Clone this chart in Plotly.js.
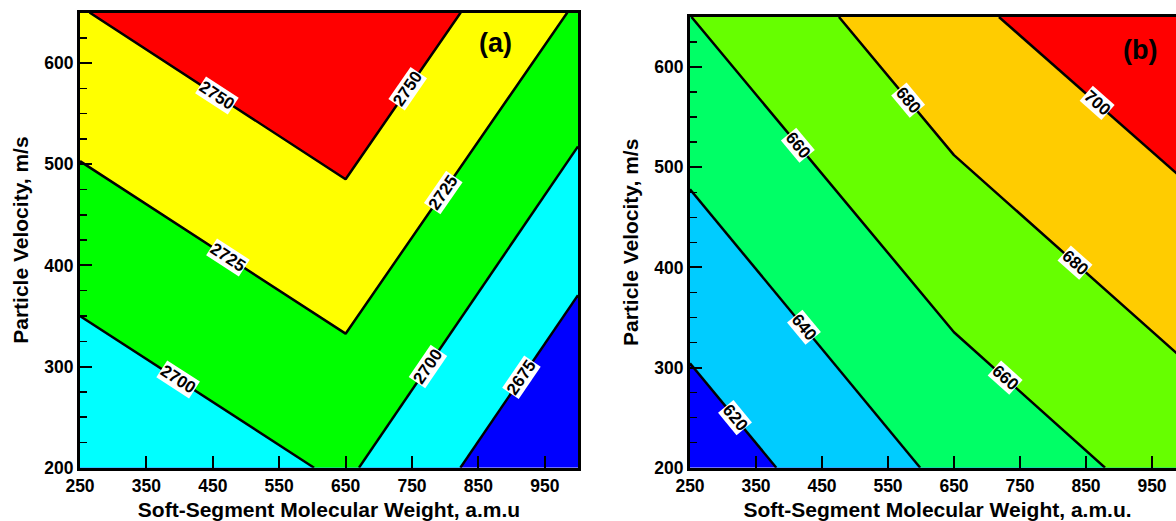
<!DOCTYPE html>
<html><head><meta charset="utf-8">
<script src="https://cdn.plot.ly/plotly-3.0.1.min.js"></script>
<style>html,body{margin:0;padding:0;overflow:hidden;background:#fff;}</style>
</head><body><div id="chart" style="width:1200px;height:521px;"></div>
<script>
// Data grid (soft-segment molecular weight, particle velocity)
const molWeight = [250, 650, 1000];
const velocity = [200, 650];
// Panel (a) values
const zA = [[2675.5, 2703.3, 2646],
            [2749, 2777, 2722.5]];
const levelsA = [2675, 2700, 2725, 2750];
const colorsA = ['#0000FF', '#00FFFF', '#00FF00', '#FFFF00', '#FF0000'];
// Panel (b) values
const zB = [[608, 644.7, 668.1],
            [659.8, 695.6, 718.2]];
const levelsB = [620, 640, 660, 680, 700];
const colorsB = ['#0000FF', '#00CCFF', '#00FF66', '#66FF00', '#FFCC00', '#FF0000'];
// Contour label placement: [level, molecular weight at which the label sits]
const labelsA = [[2750, 456], [2750, 744], [2725, 473], [2725, 797], [2700, 398], [2700, 774], [2675, 915]];
const labelsB = [[620, 318], [640, 423], [660, 414], [660, 727], [680, 581], [680, 833], [700, 866]];
// Tick labels
const xTicks = [250, 350, 450, 550, 650, 750, 850, 950];
const yTicks = [200, 300, 400, 500, 600];
const xTitleA = 'Soft-Segment Molecular Weight, a.m.u';
const xTitleB = 'Soft-Segment Molecular Weight, a.m.u.';
const yTitle = 'Particle Velocity, m/s';
const panelTags = ['(a)', '(b)'];

const W = 1200, H = 521;
const FONT = 'Liberation Sans, Arial, sans-serif';
const b = s => '<b>' + s + '</b>';

function stepScale(levels, colors) {
  const cs = levels[1] - levels[0];
  const lo = levels[0] - cs / 2;
  const span = levels.length * cs;
  const scale = [[0, colors[0]]];
  levels.forEach((L, i) => {
    const p = (L - lo) / span;
    scale.push([p, colors[i]]);
    scale.push([p, colors[i + 1]]);
  });
  scale.push([1, colors[colors.length - 1]]);
  return scale;
}

function contourTrace(z, levels, colors, xa, ya) {
  return {
    type: 'contour', x: molWeight, y: velocity, z: z,
    xaxis: xa, yaxis: ya,
    autocontour: false,
    contours: {
      start: levels[0], end: levels[levels.length - 1], size: levels[1] - levels[0],
      coloring: 'fill', showlabels: false
    },
    colorscale: stepScale(levels, colors),
    line: {color: '#000', width: 2.5, smoothing: 0},
    showscale: false, hoverinfo: 'skip'
  };
}

// Straight contour segment of a level inside each grid cell (linear edge interpolation)
function segments(z, L) {
  const segs = [];
  const y0 = velocity[0], y1 = velocity[1];
  for (let i = 0; i < molWeight.length - 1; i++) {
    const x0 = molWeight[i], x1 = molWeight[i + 1];
    const pts = [];
    const edge = (za, zb, pa, pb) => {
      if ((za - L) * (zb - L) <= 0 && za !== zb) {
        const t = (L - za) / (zb - za);
        pts.push([pa[0] + t * (pb[0] - pa[0]), pa[1] + t * (pb[1] - pa[1])]);
      }
    };
    edge(z[0][i], z[0][i + 1], [x0, y0], [x1, y0]);
    edge(z[1][i], z[1][i + 1], [x0, y1], [x1, y1]);
    edge(z[0][i], z[1][i], [x0, y0], [x0, y1]);
    edge(z[0][i + 1], z[1][i + 1], [x1, y0], [x1, y1]);
    if (pts.length >= 2) segs.push([pts[0], pts[1]]);
  }
  return segs;
}

function labelAnnots(z, labels, xref, yref, pxX, pxY) {
  return labels.map(([L, xl]) => {
    const seg = segments(z, L).find(s =>
      Math.min(s[0][0], s[1][0]) <= xl && xl <= Math.max(s[0][0], s[1][0]));
    const [p, q] = seg;
    const t = (xl - p[0]) / (q[0] - p[0]);
    const yl = p[1] + t * (q[1] - p[1]);
    let ang = Math.atan2(-(q[1] - p[1]) * pxY, (q[0] - p[0]) * pxX) * 180 / Math.PI;
    if (ang > 90) ang -= 180;
    if (ang < -90) ang += 180;
    return {
      text: b(String(L)), x: xl, y: yl, xref: xref, yref: yref,
      showarrow: false, textangle: ang, bgcolor: '#fff', borderpad: 0,
      xanchor: 'center', yanchor: 'middle',
      font: {family: FONT, size: 17, color: '#000'}
    };
  });
}

function xAxis(d0, d1, anchor, title) {
  return {
    domain: [d0 / W, d1 / W], anchor: anchor, range: [250, 1000],
    tickvals: xTicks, ticktext: xTicks.map(v => b(v)),
    ticks: 'inside', ticklen: 12, tickwidth: 2, tickcolor: '#000',
    showline: true, linewidth: 3, linecolor: '#000', mirror: true,
    showgrid: false, zeroline: false,
    tickfont: {family: FONT, size: 17.5, color: '#000'},
    title: {text: b(title), font: {family: FONT, size: 21, color: '#000'}, standoff: 12}
  };
}
function yAxis(top, bottom, anchor) {
  return {
    domain: [(H - bottom) / H, (H - top) / H], anchor: anchor, range: [200, 650],
    tickvals: yTicks, ticktext: yTicks.map(v => b(v)),
    ticks: 'inside', ticklen: 12, tickwidth: 2, tickcolor: '#000',
    minor: {dtick: 25, tick0: 200, ticks: 'inside', ticklen: 7, tickwidth: 1.5, tickcolor: '#000'},
    showline: true, linewidth: 3, linecolor: '#000', mirror: true,
    showgrid: false, zeroline: false,
    tickfont: {family: FONT, size: 17.5, color: '#000'},
    title: {text: b(yTitle), font: {family: FONT, size: 21, color: '#000'}, standoff: 10}
  };
}

const A = {l: 80, r: 578, t: 12.5, b: 467.7};
const B = {l: 690, r: 1185, t: 17, b: 467.7};

const data = [
  contourTrace(zA, levelsA, colorsA, 'x', 'y'),
  contourTrace(zB, levelsB, colorsB, 'x2', 'y2')
];

const annots = []
  .concat(labelAnnots(zA, labelsA, 'x', 'y', (A.r - A.l) / 750, (A.b - A.t) / 450))
  .concat(labelAnnots(zB, labelsB, 'x2', 'y2', (B.r - B.l) / 750, (B.b - B.t) / 450))
  .concat([
    {text: b(panelTags[0]), xref: 'paper', yref: 'paper', x: 495 / W, y: (H - 43) / H,
     showarrow: false, xanchor: 'center', yanchor: 'middle',
     font: {family: FONT, size: 27, color: '#000'}},
    {text: b(panelTags[1]), xref: 'paper', yref: 'paper', x: 1140 / W, y: (H - 50) / H,
     showarrow: false, xanchor: 'center', yanchor: 'middle',
     font: {family: FONT, size: 27, color: '#000'}}
  ]);

const layout = {
  width: W, height: H,
  margin: {l: 0, r: 0, t: 0, b: 0},
  paper_bgcolor: '#fff', plot_bgcolor: '#fff',
  showlegend: false,
  xaxis: xAxis(A.l, A.r, 'y', xTitleA),
  yaxis: yAxis(A.t, A.b, 'x'),
  xaxis2: xAxis(B.l, B.r, 'y2', xTitleB),
  yaxis2: yAxis(B.t, B.b, 'x2'),
  annotations: annots
};

Plotly.newPlot('chart', data, layout, {staticPlot: true, displayModeBar: false});
</script>
</body></html>
